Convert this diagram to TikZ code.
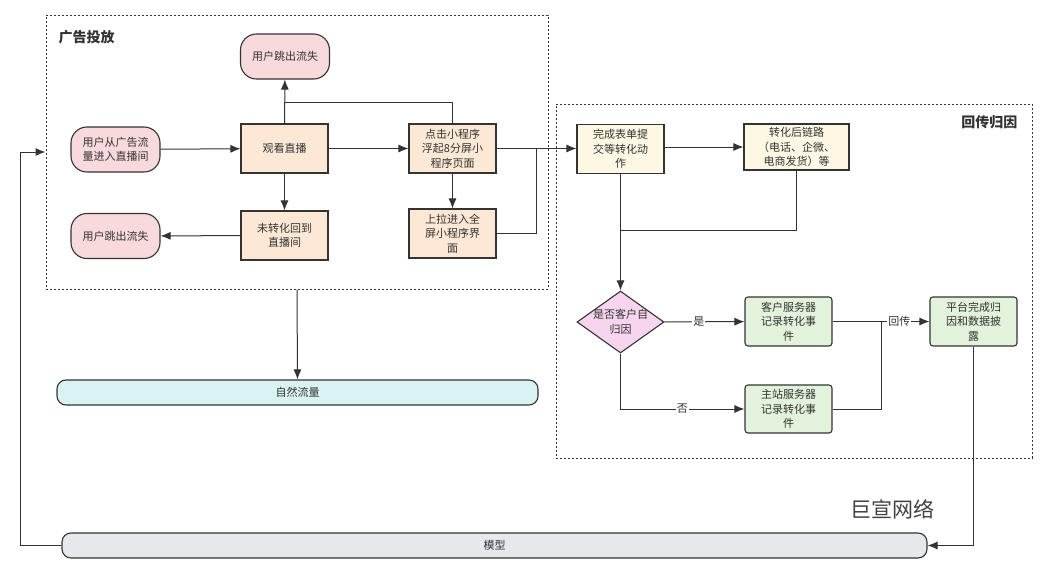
\documentclass[tikz,border=0pt]{standalone}
\usepackage{fontspec}
\setmainfont{Noto Sans CJK SC}
\usepackage{tikz}
\usetikzlibrary{arrows.meta,shapes.geometric,positioning,calc}

\definecolor{ink}{HTML}{333333}
\definecolor{lostpink}{HTML}{F8D9DC}
\definecolor{steporange}{HTML}{FCE8D5}
\definecolor{formyellow}{HTML}{FDF8E4}
\definecolor{askpink}{HTML}{F8D5EE}
\definecolor{srvgreen}{HTML}{E3F2DA}
\definecolor{natcyan}{HTML}{D9F3F3}
\definecolor{modelgray}{HTML}{E6E9EC}

\begin{document}
\begin{tikzpicture}[x=1pt,y=-1pt,
    font=\fontsize{11}{14.5}\selectfont, text=ink,
    wire/.style={draw=ink,line width=1pt},
    link/.style={wire,-{Latex[length=10pt,width=8pt]}},
    zone/.style={draw=ink,line width=1pt,dash pattern=on 2pt off 2pt,rectangle,inner sep=0pt},
    endbox/.style={draw=ink,line width=1.1pt,fill=lostpink,rounded corners=16pt,align=center,
      minimum width=89pt,minimum height=45pt,inner sep=1pt},
    stepbox/.style={draw=ink,line width=1.1pt,fill=steporange,align=center,
      minimum width=87pt,minimum height=49pt,inner sep=1pt},
    formbox/.style={stepbox,fill=formyellow},
    srvbox/.style={stepbox,fill=srvgreen,rounded corners=3pt},
    barbox/.style={draw=ink,line width=1.1pt,rounded corners=9pt,minimum height=25pt,inner sep=0pt},
    tag/.style={fill=white,inner sep=1pt}
  ]
    \useasboundingbox (0,0) rectangle (1050,570);

    \node[zone,minimum width=502pt,minimum height=274pt] (adzone) at (297,152) {};
    \node[anchor=west,font=\fontsize{14}{16}\bfseries] (adtitle) at (55,37) {广告投放};

    \node[zone,minimum width=476pt,minimum height=354pt] (backzone) at (794,281) {};
    \node[anchor=east,font=\fontsize{14}{16}\bfseries] (backtitle) at (1021,122) {回传归因};

    \node[endbox] (lostA) at (285,56.5) {用户跳出流失};
    \node[endbox] (src) at (115.5,149.5) {用户从广告流\\量进入直播间};
    \node[stepbox] (watch) at (284.5,148.5) {观看直播};
    \node[stepbox] (click) at (452.5,148.5) {点击小程序\\浮起8分屏小\\程序页面};
    \node[stepbox] (back) at (284.5,235.5) {未转化回到\\直播间};
    \node[stepbox] (pull) at (452.5,233.5) {上拉进入全\\屏小程序界\\面};
    \node[endbox] (lostB) at (115.5,236) {用户跳出流失};

    \node[formbox] (done) at (620.5,149) {完成表单提\\交等转化动\\作};
    \node[formbox,minimum width=105pt,minimum height=46pt] (chain) at (796.5,147)
      {转化后链路\\（电话、企微、\\电商发货）等};
    \node[draw=ink,line width=1.1pt,fill=askpink,diamond,minimum width=87pt,minimum height=62pt,
      inner sep=0pt,label={[align=center]center:是否客户自\\归因}] (ask) at (620.5,322) {};
    \node[srvbox] (client) at (788.5,321.5) {客户服务器\\记录转化事\\件};
    \node[srvbox,minimum height=48pt] (site) at (788.5,409) {主站服务器\\记录转化事\\件};
    \node[srvbox] (plat) at (973.5,321.5) {平台完成归\\因和数据披\\露};

    \node[barbox,fill=natcyan,minimum width=481pt] (nat) at (297.5,392.5) {自然流量};
    \node[barbox,fill=modelgray,minimum width=865pt] (model) at (494.5,545.5) {模型};

    \node[text=black!75,font=\fontsize{21}{24}\selectfont] (brand) at (892,509) {巨宣网络};

    \coordinate (loopT) at (452.5,102);
    \coordinate (joinA) at (536,149);
    \coordinate (joinB) at (620.5,230);
    \coordinate (joinC) at (881,321.5);
    \coordinate (loopL) at (20,545.5);

    \draw[link] (src) -- (watch);
    \draw[link] (watch) -- (lostA);
    \draw[wire] (click.north) -- (loopT) -| (watch.north);
    \draw[link] (watch) -- (click);
    \draw[link] (watch) -- (back);
    \draw[link] (back) -- (lostB);
    \draw[link] (click) -- (pull);
    \draw[link] (click.east) -- (done.west |- click.east);
    \draw[wire] (pull.east) -| (joinA);

    \draw[link] (done.east |- chain.west) -- (chain.west);
    \draw[link] (done) -- (ask);
    \draw[wire] (chain.south) |- (joinB);
    \draw[link] (ask) -- node[tag,pos=.43] {是} (client);
    \draw[link] (ask.south) |- node[tag,pos=.75] {否} (site.west);
    \draw[link] (client) -- node[tag,pos=.69] {回传} (plat);
    \draw[wire] (site.east) -| (joinC);

    \draw[link] (adzone.south) -- (nat.north);
    \draw[link] (plat.south) |- (model.east);
    \draw[link] (model.west) -- (loopL) |- (adzone.west);
  \end{tikzpicture}
\end{document}
